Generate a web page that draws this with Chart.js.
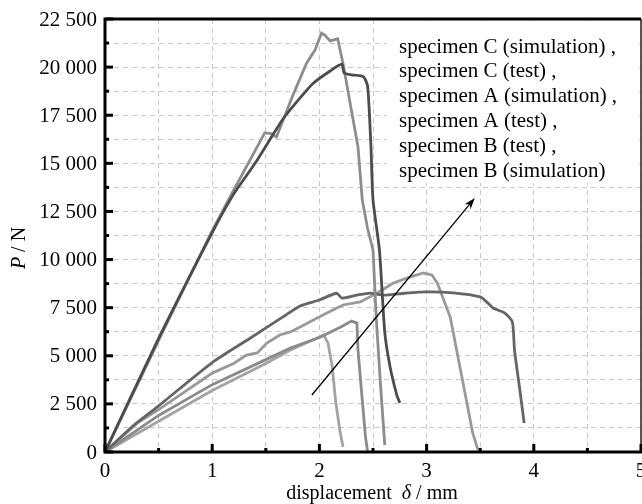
<!DOCTYPE html>
<html>
<head>
<meta charset="utf-8">
<script src="https://cdn.jsdelivr.net/npm/chart.js@4.4.1/dist/chart.umd.min.js"></script>
<style>
  html, body { margin: 0; padding: 0; background: #fff; overflow: hidden; }
  #wrap { width: 660px; height: 504px; position: relative; }
</style>
</head>
<body>
<div id="wrap"><canvas id="chart"></canvas></div>
<script>
// --- data ---
const xTickLabels = ['0', '1', '2', '3', '4', '5'];
const yTickLabels = ['0', '2 500', '5 000', '7 500', '10 000', '12 500', '15 000', '17 500', '20 000', '22 500'];

const cSimX = [0, 0.5, 1, 1.2, 1.4, 1.66, 1.82, 1.94, 2.1, 2.21, 2.23, 2.3, 2.41, 2.45, 2.48, 2.5, 2.56, 2.61, 2.66, 2.72, 2.75];
const cSimY = [0, 5900, 11400, 13400, 15000, 17300, 18400, 19150, 19800, 20150, 19700, 19600, 19500, 19000, 16000, 13100, 10500, 6200, 4400, 3000, 2550];

const cTestX = [0, 0.5, 1, 1.2, 1.49, 1.55, 1.6, 1.75, 1.88, 1.96, 2.02, 2.05, 2.1, 2.17, 2.22, 2.36, 2.4, 2.45, 2.5, 2.53, 2.57, 2.61];
const cTestY = [0, 5800, 11500, 13600, 16580, 16550, 16370, 18500, 20200, 20900, 21770, 21670, 21360, 21470, 20200, 15850, 13100, 11600, 10500, 7000, 3500, 360];

const aSimX = [0, 0.25, 0.5, 1, 1.35, 1.66, 1.82, 2.0, 2.16, 2.21, 2.35, 2.47, 2.6, 2.8, 3.0, 3.25, 3.5, 3.56, 3.62, 3.73, 3.8, 3.82, 3.87, 3.91];
const aSimY = [0, 1300, 2400, 4650, 5900, 7020, 7590, 7900, 8250, 8000, 8150, 8260, 8150, 8250, 8320, 8270, 8060, 7800, 7480, 7220, 6760, 5300, 3220, 1500];

const aTestX = [0, 0.3, 0.5, 1, 1.2, 1.32, 1.42, 1.51, 1.63, 1.73, 1.82, 1.98, 2.07, 2.22, 2.38, 2.54, 2.69, 2.85, 2.97, 3.05, 3.1, 3.22, 3.34, 3.43, 3.48];
const aTestY = [0, 1500, 2200, 4100, 4600, 5040, 5150, 5660, 6080, 6240, 6500, 6960, 7220, 7640, 7800, 8260, 8780, 9100, 9300, 9200, 8780, 7020, 3590, 990, 100];

const bTestX = [0, 0.5, 1, 1.5, 1.73, 2.0, 2.2, 2.3, 2.35, 2.36, 2.4, 2.43, 2.45];
const bTestY = [0, 1900, 3500, 4800, 5400, 5950, 6500, 6800, 6700, 5300, 2700, 780, 0];

const bSimX = [0, 0.5, 1, 1.5, 1.73, 2.04, 2.08, 2.12, 2.15, 2.19, 2.22];
const bSimY = [0, 1600, 3200, 4600, 5300, 6080, 5660, 4420, 2700, 1140, 260];

const legendLines = [
  'specimen C (simulation) ,',
  'specimen C (test) ,',
  'specimen A (simulation) ,',
  'specimen A (test) ,',
  'specimen B (test) ,',
  'specimen B (simulation)'
];

const arrowX = [1.93, 3.45];
const arrowY = [2960, 13200];

const pts = (xs, ys) => xs.map((x, i) => ({ x, y: ys[i] }));
const serif = '"Liberation Serif", "DejaVu Serif", serif';

const series = [
  { label: 'specimen C (simulation)', data: pts(cSimX, cSimY), color: '#4c4c4c', tension: 0.2 },
  { label: 'specimen C (test)', data: pts(cTestX, cTestY), color: '#8d8d8d', tension: 0 },
  { label: 'specimen A (simulation)', data: pts(aSimX, aSimY), color: '#656565', tension: 0.2 },
  { label: 'specimen A (test)', data: pts(aTestX, aTestY), color: '#999999', tension: 0 },
  { label: 'specimen B (test)', data: pts(bTestX, bTestY), color: '#8a8a8a', tension: 0 },
  { label: 'specimen B (simulation)', data: pts(bSimX, bSimY), color: '#a3a3a3', tension: 0 }
];

// --- frame, inside ticks, labels, legend text, arrow ---
const decor = {
  id: 'decor',
  beforeDatasetsDraw(chart) {
    const { ctx, chartArea: a } = chart;
    // white box behind the legend text
    ctx.save();
    ctx.fillStyle = '#fff';
    ctx.fillRect(386, a.top + 2, a.right - 388, 162);
    ctx.restore();
  },
  afterDraw(chart) {
    const { ctx, chartArea: a, scales: { x, y } } = chart;
    ctx.save();

    // frame
    ctx.strokeStyle = '#000';
    ctx.lineWidth = 3;
    ctx.beginPath();
    ctx.moveTo(a.right, a.top); ctx.lineTo(a.left, a.top);
    ctx.lineTo(a.left, a.bottom); ctx.lineTo(a.right + 2, a.bottom);
    ctx.stroke();
    ctx.lineWidth = 1.5;
    ctx.strokeStyle = '#222';
    ctx.beginPath(); ctx.moveTo(a.right, a.top); ctx.lineTo(a.right, a.bottom); ctx.stroke();

    // inside ticks
    ctx.lineWidth = 3;
    ctx.strokeStyle = '#000';
    for (let v = 0; v <= 22500; v += 1250) {
      const py = y.getPixelForValue(v);
      const len = v % 2500 === 0 ? 8 : 4;
      ctx.beginPath(); ctx.moveTo(a.left, py); ctx.lineTo(a.left + len, py); ctx.stroke();
    }
    for (let v = 0; v <= 5; v += 0.5) {
      const px = x.getPixelForValue(v);
      const len = v % 1 === 0 ? 8 : 4;
      ctx.beginPath(); ctx.moveTo(px, a.bottom); ctx.lineTo(px, a.bottom - len); ctx.stroke();
    }

    // tick labels
    ctx.fillStyle = '#000';
    ctx.font = '21px ' + serif;
    ctx.textAlign = 'right';
    ctx.textBaseline = 'middle';
    yTickLabels.forEach((t, i) => ctx.fillText(t, a.left - 8, y.getPixelForValue(i * 2500) + 1));
    ctx.textAlign = 'center';
    ctx.textBaseline = 'alphabetic';
    xTickLabels.forEach((t, i) => ctx.fillText(t, x.getPixelForValue(i), a.bottom + 25));

    // axis titles
    ctx.textAlign = 'left';
    const xt = [['displacement  ', 'normal'], ['\u03b4', 'italic'], [' / mm', 'normal']];
    let w = 0;
    xt.forEach(([s, st]) => { ctx.font = st + ' 20px ' + serif; w += ctx.measureText(s).width; });
    let cx = 372 - w / 2;
    xt.forEach(([s, st]) => { ctx.font = st + ' 20px ' + serif; ctx.fillText(s, cx, 499); cx += ctx.measureText(s).width; });

    ctx.save();
    ctx.translate(25, 248);
    ctx.rotate(-Math.PI / 2);
    const yt = [['P', 'italic'], [' / N', 'normal']];
    w = 0;
    yt.forEach(([s, st]) => { ctx.font = st + ' 20px ' + serif; w += ctx.measureText(s).width; });
    cx = -w / 2;
    yt.forEach(([s, st]) => { ctx.font = st + ' 20px ' + serif; ctx.fillText(s, cx, 0); cx += ctx.measureText(s).width; });
    ctx.restore();

    // legend text
    ctx.font = '21px ' + serif;
    ctx.textBaseline = 'middle';
    legendLines.forEach((t, i) => ctx.fillText(t, 399, 47 + i * 24.9));

    // arrow
    const x0 = x.getPixelForValue(arrowX[0]), y0 = y.getPixelForValue(arrowY[0]);
    const x1 = x.getPixelForValue(arrowX[1]), y1 = y.getPixelForValue(arrowY[1]);
    const ang = Math.atan2(y1 - y0, x1 - x0);
    ctx.strokeStyle = '#000';
    ctx.lineWidth = 1.3;
    ctx.beginPath(); ctx.moveTo(x0, y0); ctx.lineTo(x1 - 6 * Math.cos(ang), y1 - 6 * Math.sin(ang)); ctx.stroke();
    ctx.beginPath();
    ctx.moveTo(x1, y1);
    ctx.lineTo(x1 - 12 * Math.cos(ang - 0.32), y1 - 12 * Math.sin(ang - 0.32));
    ctx.lineTo(x1 - 8 * Math.cos(ang), y1 - 8 * Math.sin(ang));
    ctx.lineTo(x1 - 12 * Math.cos(ang + 0.32), y1 - 12 * Math.sin(ang + 0.32));
    ctx.closePath();
    ctx.fillStyle = '#000';
    ctx.fill();

    ctx.restore();
  }
};

new Chart(document.getElementById('chart'), {
  type: 'line',
  data: {
    datasets: series.map(s => ({
      label: s.label,
      data: s.data,
      borderColor: s.color,
      borderWidth: 2.8,
      pointRadius: 0,
      tension: s.tension,
      fill: false
    }))
  },
  options: {
    responsive: true,
    maintainAspectRatio: false,
    animation: false,
    layout: { padding: { left: 105, top: 19, right: 19, bottom: 52 } },
    plugins: { legend: { display: false }, tooltip: { enabled: false } },
    scales: {
      x: {
        type: 'linear', min: 0, max: 5,
        ticks: { display: false, stepSize: 0.5 },
        grid: { color: '#c8c8c8', lineWidth: 1, drawTicks: false },
        border: { display: false, dash: [5, 4] }
      },
      y: {
        type: 'linear', min: 0, max: 22500,
        ticks: { display: false, stepSize: 1250 },
        grid: { color: '#c8c8c8', lineWidth: 1, drawTicks: false },
        border: { display: false, dash: [5, 4] }
      }
    }
  },
  plugins: [decor]
});
</script>
</body>
</html>
